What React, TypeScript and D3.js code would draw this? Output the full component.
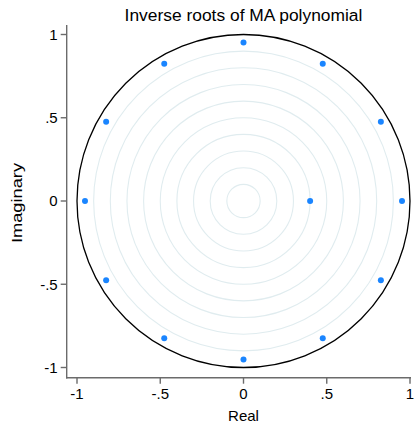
import React from "react";
import * as d3 from "d3";

const rootReal = [0.952, 0.825, 0.476, 0.0, -0.476, -0.825, -0.952, -0.825, -0.476, 0.0, 0.476, 0.825, 0.4];
const rootImag = [0.0, 0.476, 0.825, 0.952, 0.825, 0.476, 0.0, -0.476, -0.825, -0.952, -0.825, -0.476, 0.0];
const tickValues = [-1, -0.5, 0, 0.5, 1];
const tickLabels = ["-1", "-.5", "0", ".5", "1"];
const gridRadii = [0.1, 0.2, 0.3, 0.4, 0.5, 0.6, 0.7, 0.8, 0.9];

const W = 414;
const H = 425;
const FONT = "'Liberation Sans', Arial, Helvetica, sans-serif";

export default function App() {
  const x = d3.scaleLinear().domain([-1, 1]).range([77, 410]);
  const y = d3.scaleLinear().domain([-1, 1]).range([367.5, 34.5]);
  const axisX = 66.7;
  const axisY = 377.7;
  const cx = x(0);
  const cy = y(0);
  const unit = x(1) - x(0);
  const axisColor = "#6b6b6b";

  return (
    <svg
      width={W}
      height={H}
      style={{ position: "absolute", left: 0, top: 0, display: "block", background: "#fff" }}
      fontFamily={FONT}
    >
      <rect x={0} y={0} width={W} height={H} fill="#fff" />
      {gridRadii.map((r) => (
        <circle key={r} cx={cx} cy={cy} r={r * unit} fill="none" stroke="#e0ecef" strokeWidth={1.1} />
      ))}
      <circle cx={cx} cy={cy} r={unit} fill="none" stroke="#000" strokeWidth={1.3} />
      {rootReal.map((re, i) => (
        <circle key={i} cx={x(re)} cy={y(rootImag[i])} r={3} fill="#1a85ff" />
      ))}
      <line x1={axisX} x2={axisX} y1={25} y2={axisY + 0.7} stroke={axisColor} strokeWidth={1.4} />
      <line x1={axisX - 0.7} x2={411} y1={axisY} y2={axisY} stroke={axisColor} strokeWidth={1.4} />
      {tickValues.map((v, i) => (
        <g key={"y" + i}>
          <line x1={axisX - 6} x2={axisX} y1={y(v)} y2={y(v)} stroke={axisColor} strokeWidth={1.4} />
          <text x={axisX - 9} y={y(v)} dy="0.36em" textAnchor="end" fontSize={15} fill="#000">
            {tickLabels[i]}
          </text>
        </g>
      ))}
      {tickValues.map((v, i) => (
        <g key={"x" + i}>
          <line x1={x(v)} x2={x(v)} y1={axisY} y2={axisY + 6} stroke={axisColor} strokeWidth={1.4} />
          <text x={x(v)} y={399} textAnchor="middle" fontSize={15} fill="#000">
            {tickLabels[i]}
          </text>
        </g>
      ))}
      <text x={cx} y={421} textAnchor="middle" fontSize={15} fill="#000">
        Real
      </text>
      <text
        transform={`translate(22, 203) rotate(-90)`}
        textAnchor="middle"
        fontSize={15.5}
        textLength={80}
        lengthAdjust="spacingAndGlyphs"
        fill="#000"
      >
        Imaginary
      </text>
      <text x={cx} y={20.5} textAnchor="middle" fontSize={17.4} fill="#000">
        Inverse roots of MA polynomial
      </text>
    </svg>
  );
}
